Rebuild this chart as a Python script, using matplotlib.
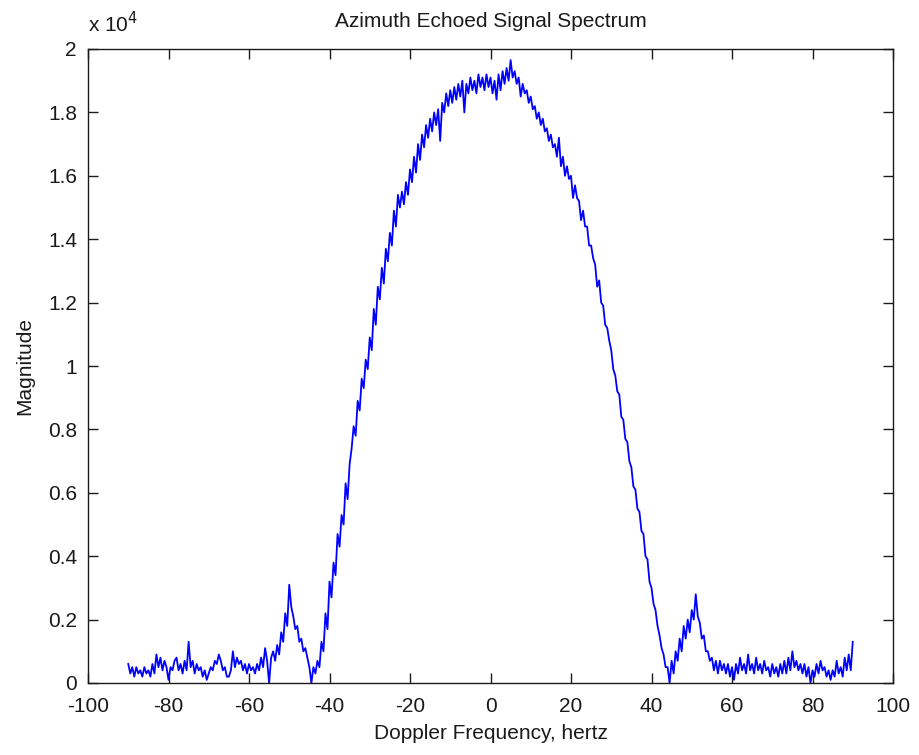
import numpy as np
import matplotlib
matplotlib.use("Agg")
import matplotlib.pyplot as plt
from matplotlib.ticker import FuncFormatter

# Doppler frequency axis (Hz), 0.5 Hz spacing from -90 to 90
freq_start, freq_stop, n_points = -90.0, 90.0, 361
freq = np.linspace(freq_start, freq_stop, n_points)

# Magnitude in units of 1e4 (rows of 5 Hz)
magnitude_e4 = [
    0.06, 0.03, 0.05, 0.02, 0.05, 0.03, 0.04, 0.02, 0.05, 0.03,   # -90
    0.04, 0.02, 0.06, 0.03, 0.09, 0.05, 0.08, 0.04, 0.07, 0.05,   # -85
    0.01, 0.05, 0.04, 0.07, 0.08, 0.04, 0.06, 0.03, 0.07, 0.04,   # -80
    0.13, 0.05, 0.07, 0.03, 0.06, 0.04, 0.05, 0.02, 0.04, 0.01,   # -75
    0.03, 0.05, 0.04, 0.07, 0.06, 0.09, 0.07, 0.04, 0.05, 0.02,   # -70
    0.02, 0.04, 0.10, 0.05, 0.08, 0.06, 0.07, 0.04, 0.06, 0.03,   # -65
    0.06, 0.04, 0.05, 0.03, 0.06, 0.04, 0.08, 0.05, 0.11, 0.07,   # -60
    0.00, 0.08, 0.10, 0.07, 0.12, 0.09, 0.16, 0.13, 0.22, 0.18,   # -55
    0.31, 0.24, 0.21, 0.17, 0.18, 0.13, 0.14, 0.10, 0.11, 0.08,   # -50
    0.05, 0.00, 0.05, 0.03, 0.07, 0.05, 0.13, 0.10, 0.22, 0.17,   # -45
    0.32, 0.27, 0.38, 0.34, 0.47, 0.43, 0.53, 0.50, 0.63, 0.58,   # -40
    0.69, 0.74, 0.81, 0.78, 0.89, 0.86, 0.96, 0.93, 1.02, 0.99,   # -35
    1.09, 1.05, 1.18, 1.13, 1.25, 1.21, 1.31, 1.26, 1.37, 1.33,   # -30
    1.42, 1.38, 1.49, 1.44, 1.54, 1.50, 1.55, 1.51, 1.58, 1.54,   # -25
    1.62, 1.58, 1.66, 1.61, 1.70, 1.65, 1.73, 1.69, 1.76, 1.72,   # -20
    1.78, 1.74, 1.80, 1.76, 1.81, 1.71, 1.83, 1.80, 1.86, 1.82,   # -15
    1.87, 1.83, 1.88, 1.84, 1.89, 1.85, 1.90, 1.80, 1.89, 1.86,   # -10
    1.91, 1.87, 1.90, 1.86, 1.92, 1.88, 1.91, 1.87, 1.92, 1.88,   # -5
    1.91, 1.86, 1.90, 1.84, 1.92, 1.87, 1.93, 1.89, 1.94, 1.90,   # 0
    1.965, 1.91, 1.93, 1.89, 1.91, 1.85, 1.89, 1.86, 1.87, 1.83,  # 5
    1.85, 1.81, 1.82, 1.78, 1.80, 1.76, 1.78, 1.74, 1.75, 1.71,   # 10
    1.73, 1.69, 1.70, 1.66, 1.72, 1.63, 1.66, 1.60, 1.63, 1.59,   # 15
    1.60, 1.53, 1.57, 1.53, 1.52, 1.46, 1.49, 1.44, 1.44, 1.38,   # 20
    1.38, 1.34, 1.32, 1.25, 1.27, 1.20, 1.19, 1.13, 1.12, 1.08,   # 25
    1.05, 0.99, 0.97, 0.92, 0.91, 0.84, 0.83, 0.77, 0.76, 0.70,   # 30
    0.68, 0.62, 0.61, 0.55, 0.54, 0.48, 0.47, 0.40, 0.39, 0.32,   # 35
    0.30, 0.25, 0.23, 0.18, 0.15, 0.11, 0.09, 0.05, 0.05, 0.00,   # 40
    0.07, 0.03, 0.10, 0.07, 0.14, 0.10, 0.18, 0.14, 0.20, 0.16,   # 45
    0.23, 0.20, 0.28, 0.21, 0.19, 0.14, 0.15, 0.10, 0.10, 0.07,   # 50
    0.08, 0.04, 0.07, 0.03, 0.07, 0.04, 0.06, 0.03, 0.06, 0.02,   # 55
    0.05, 0.01, 0.06, 0.03, 0.08, 0.04, 0.06, 0.03, 0.09, 0.04,   # 60
    0.06, 0.03, 0.08, 0.04, 0.06, 0.03, 0.07, 0.04, 0.05, 0.02,   # 65
    0.06, 0.03, 0.05, 0.02, 0.06, 0.03, 0.07, 0.03, 0.08, 0.04,   # 70
    0.10, 0.05, 0.07, 0.04, 0.06, 0.03, 0.06, 0.02, 0.05, 0.00,   # 75
    0.04, 0.02, 0.06, 0.03, 0.07, 0.04, 0.05, 0.02, 0.04, 0.01,   # 80
    0.04, 0.02, 0.07, 0.03, 0.05, 0.02, 0.08, 0.04, 0.09, 0.04,   # 85
    0.13,                                                         # 90
]

x_ticks = [-100, -80, -60, -40, -20, 0, 20, 40, 60, 80, 100]
y_ticks = [0, 0.2, 0.4, 0.6, 0.8, 1.0, 1.2, 1.4, 1.6, 1.8, 2.0]

title = "Azimuth Echoed Signal Spectrum"
xlabel = "Doppler Frequency, hertz"
ylabel = "Magnitude"

plt.rcParams['font.family'] = ['Liberation Sans', 'DejaVu Sans']

fig = plt.figure(figsize=(9.19, 7.55), dpi=100)
ax = fig.add_axes([88 / 919, 1 - 683 / 755, (893 - 88) / 919, (683 - 49) / 755])

ax.plot(freq, magnitude_e4, color='#0000ff', linewidth=1.3)

ax.set_xlim(-100, 100)
ax.set_ylim(0, 2)
ax.set_xticks(x_ticks)
ax.set_yticks(y_ticks)
ax.yaxis.set_major_formatter(FuncFormatter(lambda v, p: "%g" % round(v, 2)))
ax.xaxis.set_major_formatter(FuncFormatter(lambda v, p: "%g" % v))

ax.tick_params(direction='in', length=7, width=1, top=True, right=True,
               labelsize=15, colors='#1a1a1a')
ax.tick_params(axis='x', pad=10)
ax.tick_params(axis='y', pad=8)
for s in ax.spines.values():
    s.set_linewidth(1.0)
    s.set_color('#1a1a1a')

ax.set_title(title, fontsize=15, color='#1a1a1a', pad=16)
ax.set_xlabel(xlabel, fontsize=15, color='#1a1a1a', labelpad=6)
ax.set_ylabel(ylabel, fontsize=15, color='#1a1a1a', labelpad=10)

ax.text(0.0, 1.02, r"x 10$^{4}$", transform=ax.transAxes, fontsize=15,
        color='#1a1a1a', ha='left', va='bottom')

fig.savefig("out.png", dpi=100, facecolor='white')
